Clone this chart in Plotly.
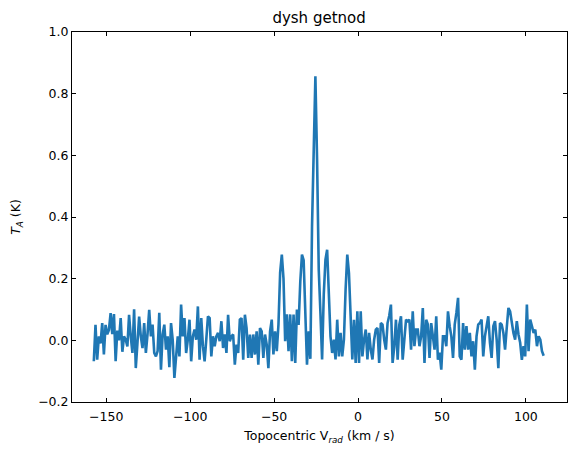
import numpy as np
import plotly.graph_objects as go

# channel grid of the spectrum (km/s)
v_start = -157.4
v_step = 1.0

# antenna temperature (K)
ta_blue = [
    -0.068, 0.050, -0.063, 0.013, -0.010, 0.056, -0.046, 0.050, 0.020, 0.034,
    0.088, 0.020, 0.085, -0.068, 0.032, 0.000, 0.072, -0.037, 0.013, 0.002,
    -0.020, 0.083, 0.013, -0.041, 0.101, -0.090, -0.008, 0.077, 0.013, -0.025,
    0.056, -0.041, 0.020, 0.099, 0.013, 0.051, -0.041, -0.052, -0.035, 0.089,
    -0.095, 0.019, 0.051, -0.030, 0.013, -0.087, 0.056, 0.002, -0.122, -0.041,
    0.013, -0.052, 0.116, 0.013, 0.072, -0.041, 0.002, 0.067, -0.068, 0.013,
    0.035, 0.002, 0.110, -0.063, 0.072, -0.019, -0.068, 0.002, 0.078, 0.072,
    -0.052, 0.013, -0.019, 0.013, 0.024, -0.003, 0.062, -0.025, 0.019, -0.041,
    0.083, -0.003, 0.013, 0.019, -0.079, -0.014, -0.041, 0.067, 0.072, -0.063,
    0.083, 0.040, -0.057, 0.019, -0.057, 0.019, -0.046, 0.029, -0.079, 0.040,
    0.029, -0.057, 0.019, -0.014, -0.090, 0.029, 0.067, -0.046, 0.029, -0.035,
]
ta_line = [
    0.051, 0.220, 0.278, 0.200, -0.003, 0.084, -0.035, 0.084, -0.068, 0.084,
    -0.073, 0.100, 0.050, 0.190, 0.278, 0.260, 0.120, -0.079, 0.029, -0.060,
    0.370, 0.660, 0.856, 0.586, 0.230, 0.090, -0.062, 0.150, 0.262, 0.294,
    0.165, 0.013, -0.041, 0.002, -0.062, 0.067, -0.052, 0.024, -0.052, 0.002,
    0.165, 0.278, 0.218, 0.067, -0.062, 0.067, -0.073, 0.094, -0.073, 0.094,
    -0.052, 0.002, 0.035, -0.062, 0.024, -0.030, -0.062, 0.002, 0.035, 0.040,
    -0.073, 0.056, 0.051, 0.002, -0.030, 0.056, 0.080,
]
ta_red = [
    0.116, -0.073, -0.020, 0.067, -0.063, 0.051, 0.078, -0.063, 0.002, 0.067,
    0.062, 0.067, -0.030, 0.094, -0.019, 0.035, 0.035, -0.019, 0.013, 0.105,
    -0.073, 0.067, 0.051, -0.057, 0.056, 0.013, -0.030, 0.078, -0.063, -0.040,
    -0.095, 0.013, 0.013, -0.019, 0.094, 0.046, 0.013, -0.057, 0.051, 0.089,
    0.138, -0.052, -0.063, 0.056, -0.030, 0.046, -0.030, 0.024, -0.052, -0.003,
    -0.095, 0.013, 0.051, 0.056, 0.067, -0.052, 0.013, 0.046, 0.078, -0.008,
    -0.057, 0.046, 0.062, 0.002, -0.090, 0.056, 0.051, 0.024, -0.030, 0.040,
    0.105, 0.094, 0.056, 0.024, 0.002, 0.062, 0.019, -0.008, -0.063, -0.019,
    -0.052, 0.116, -0.035, 0.067, 0.046, 0.024, 0.035, -0.019, 0.013, 0.002,
    -0.035, -0.050,
]

x_ticks = [-150, -100, -50, 0, 50, 100]
y_ticks = [-0.2, 0.0, 0.2, 0.4, 0.6, 0.8, 1.0]

ta = np.array(ta_blue + ta_line + ta_red)
vel = v_start + v_step * np.arange(len(ta))

font = "DejaVu Sans"

fig = go.Figure()
fig.add_trace(go.Scatter(x=vel, y=ta, mode="lines",
                         line=dict(color="#1f77b4", width=2.6)))

axis_style = dict(showline=True, linecolor="black", linewidth=1,
                  mirror="ticks", ticks="inside", ticklen=4, tickwidth=1,
                  tickcolor="black", showgrid=False, zeroline=False,
                  automargin=False,
                  tickfont=dict(family=font, size=12.5, color="black"))

fig.update_xaxes(range=[-170.4, 124.5], tickvals=x_ticks,
                 ticktext=[str(t).replace("-", "\u2212") for t in x_ticks],
                 ticklabelstandoff=3,
                 title=dict(text="Topocentric V<sub><i>rad</i></sub> (km / s)",
                            font=dict(family=font, size=12.5, color="black"),
                            standoff=8),
                 **axis_style)
fig.update_yaxes(range=[-0.2, 1.0], tickvals=y_ticks,
                 ticktext=[f"{t:.1f}".replace("-", "\u2212") for t in y_ticks],
                 title=dict(text="<i>T<sub>A</sub></i> (K)",
                            font=dict(family=font, size=12.5, color="black"),
                            standoff=14),
                 **axis_style)

fig.update_layout(
    width=577, height=454,
    showlegend=False,
    title=dict(text="dysh getnod", x=0.553, xref="container", xanchor="center",
               y=0.96, yref="container", yanchor="middle",
               font=dict(family=font, size=15, color="black")),
    margin=dict(l=72, r=10, t=32, b=52),
    paper_bgcolor="white",
    plot_bgcolor="white",
)

# drop the page's default body margin so the figure sits at the window corner
fig.write_html("out.html", config={"displayModeBar": False},
               post_script="document.body.style.margin='0';")
